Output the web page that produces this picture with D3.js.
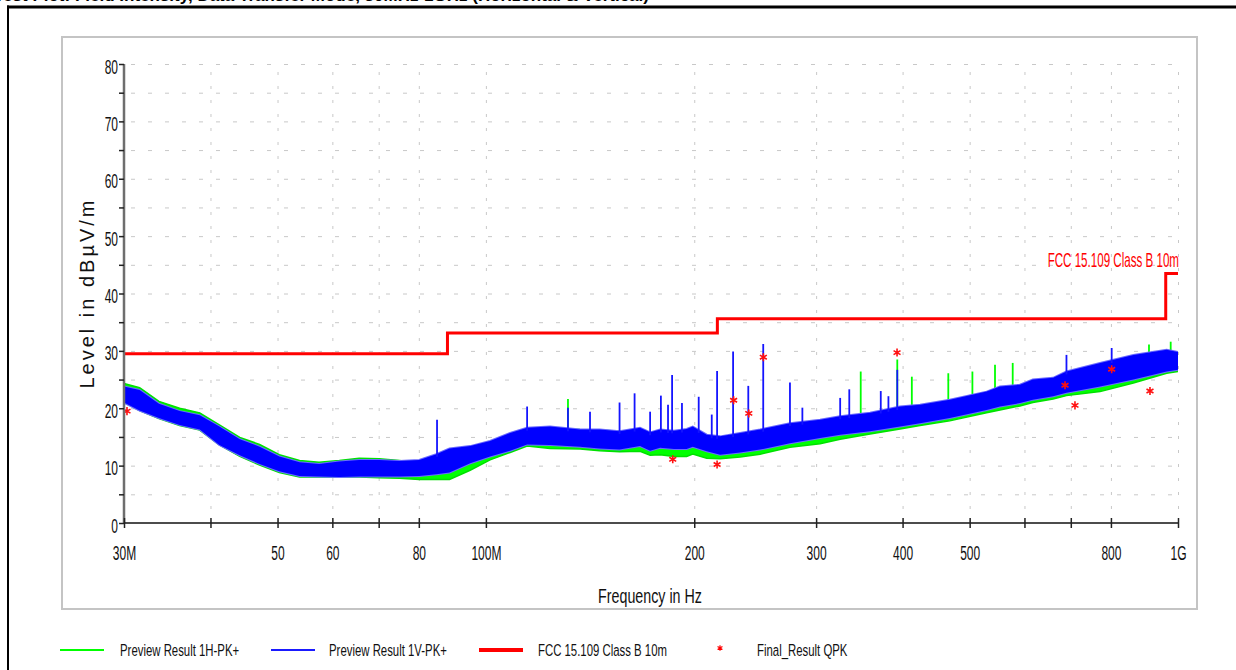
<!DOCTYPE html>
<html>
<head>
<meta charset="utf-8">
<script src="https://cdn.jsdelivr.net/npm/d3@7"></script>
<style>
  body { margin: 0; background: #fff; }
  svg text { font-family: "Liberation Sans", Arial, sans-serif; }
</style>
</head>
<body>
<svg id="chart" width="1236" height="670"></svg>
<script>
// ---- data ----
const freqMHz = [30, 31.6, 33.7, 36.1, 38.6, 41.2, 44.1, 47.1, 50.3, 53.8, 57.4, 61.4, 65.6, 70.1, 75, 80.1,
  84.8, 88.6, 94.9, 101.4, 108.4, 114.7, 123.8, 136.8, 146, 156, 167, 172.7, 178.5, 187, 195, 199, 208.5,
  218, 233, 249, 275, 304, 325, 359, 396.7, 424, 468, 529, 553, 591, 617, 660, 690, 771.7, 862, 963, 1000];
const blueLo = [21.0, 19.6, 18.3, 17.1, 16.3, 13.6, 11.8, 10.3, 9.0, 8.2, 8.1, 8.0, 8.1, 8.1, 8.1, 8.2,
  8.5, 8.8, 10.4, 11.6, 12.6, 13.7, 13.6, 13.3, 13.0, 12.8, 13.4, 12.6, 13.1, 12.9, 12.9, 13.3, 12.5,
  11.9, 12.3, 12.8, 13.9, 14.8, 15.4, 16.0, 16.8, 17.4, 18.3, 19.7, 20.3, 20.9, 21.5, 22.1, 22.7, 23.8, 25.0, 26.4, 26.7];
const blueHi = [23.8, 23.2, 20.8, 19.5, 18.8, 16.8, 14.6, 13.3, 11.6, 10.6, 10.3, 10.7, 11.0, 11.0, 10.8, 11.0,
  12.0, 13.0, 13.4, 14.3, 15.7, 16.6, 16.8, 16.3, 16.3, 16.0, 16.6, 15.8, 16.3, 16.1, 16.4, 16.8, 15.4,
  15.1, 15.7, 16.3, 17.4, 18.0, 18.6, 19.2, 20.3, 20.6, 21.5, 22.9, 23.8, 24.1, 25.0, 25.3, 26.4, 27.9, 29.3, 30.2, 29.8];
const greenLo = [21.0, 19.6, 18.2, 17.0, 16.2, 13.6, 11.6, 10.1, 8.8, 8.0, 8.0, 8.0, 8.0, 7.9, 7.8, 7.6,
  7.6, 7.6, 9.2, 11.0, 12.3, 13.4, 13.0, 12.9, 12.6, 12.4, 12.5, 11.8, 11.9, 11.6, 11.6, 12.0, 11.3,
  11.2, 11.5, 12.0, 13.2, 13.8, 14.6, 15.5, 16.4, 17.0, 17.8, 19.2, 19.7, 20.4, 21.0, 21.6, 22.2, 22.9, 24.4, 26.1, 26.4];
const greenHi = [24.3, 23.6, 21.2, 20.0, 19.2, 17.1, 14.9, 13.7, 11.9, 10.9, 10.6, 10.9, 11.3, 11.2, 10.9, 10.4,
  10.4, 10.7, 11.8, 13.6, 15.5, 16.5, 16.6, 16.3, 16.2, 16.0, 16.0, 15.6, 16.0, 15.8, 16.2, 16.6, 15.0,
  14.8, 15.3, 16.0, 17.0, 17.6, 18.3, 19.0, 20.0, 20.5, 21.3, 22.8, 23.5, 24.0, 24.8, 25.2, 26.2, 27.6, 29.0, 30.0, 29.6];

const blueSpikeFreq = [85, 114.7, 131.4, 141.4, 156, 164, 172.7, 179, 183.3, 185.8, 192, 203, 212, 215.8,
  227.6, 239.4, 251.6, 275, 286.6, 325, 335, 372, 381.6, 393, 690, 802];
const blueSpikePeak = [18.0, 20.3, 20.1, 19.4, 21.0, 22.6, 19.4, 22.2, 20.6, 25.8, 20.9, 22.0, 18.9, 26.5,
  29.9, 23.9, 31.2, 24.5, 20.1, 21.8, 23.3, 23.0, 22.1, 26.7, 29.3, 30.5];
const greenSpikeFreq = [131.4, 348, 393, 412.5, 465.7, 504.6, 544, 577, 908, 976];
const greenSpikePeak = [21.6, 26.4, 28.5, 25.5, 26.1, 26.4, 27.6, 27.9, 31.1, 31.6];

const limitFreq = [30, 88, 88, 216, 216, 960, 960, 1000];
const limitLevel = [29.5, 29.5, 33.1, 33.1, 35.6, 35.6, 43.5, 43.5];

const qpkFreq = [30.3, 186.2, 215.8, 228, 239.8, 251.7, 392.7, 686.7, 709.8, 802, 911];
const qpkLevel = [19.5, 11.1, 10.2, 21.4, 19.1, 28.9, 29.7, 24.0, 20.5, 26.8, 23.0];

const xTicks = [30, 40, 50, 60, 70, 80, 100, 200, 300, 400, 500, 600, 700, 800, 1000];
const xTickLabels = ['30M', '', '50', '60', '', '80', '100M', '200', '300', '400', '500', '', '', '800', '1G'];
const yTicks = d3.range(0, 81, 5);

const legendItems = ['Preview Result 1H-PK+', 'Preview Result 1V-PK+', 'FCC 15.109 Class B 10m', 'Final_Result QPK'];

// ---- layout ----
const svg = d3.select('#chart');
const plotLeft = 124, plotRight = 1178, plotTop = 64, plotBottom = 523;

const x = d3.scaleLog().domain([30, 1000]).range([plotLeft, plotRight]);
const y = d3.scaleLinear().domain([0, 80]).range([plotBottom, plotTop]);

// squeeze text horizontally like the original narrow font
function squeeze(sel, sx) {
  sel.attr('transform', `scale(${sx},1)`);
}

// outer frame and the title line, mostly cut off at the top of the page
svg.append('text')
  .attr('x', -6).attr('y', 1)
  .attr('font-size', 17).attr('font-weight', 'bold')
  .text('Test Plot: Field Intensity, Data Transfer Mode, 30MHz-1GHz (Horizontal & Vertical)');
svg.append('rect').attr('x', 7).attr('y', 5.5).attr('width', 1240).attr('height', 3).attr('fill', '#000');
svg.append('rect').attr('x', 7).attr('y', 5.5).attr('width', 2).attr('height', 700).attr('fill', '#000');

// inner panel
svg.append('rect')
  .attr('x', 62).attr('y', 37).attr('width', 1135).attr('height', 572)
  .attr('fill', '#fff').attr('stroke', '#c4c4c4').attr('stroke-width', 2);

// grid
svg.append('g')
  .attr('transform', `translate(${plotLeft},0)`)
  .call(d3.axisLeft(y).tickValues(yTicks.filter(d => d > 0)).tickSize(-(plotRight - plotLeft)).tickFormat(''))
  .call(g => g.select('.domain').remove())
  .call(g => g.selectAll('line')
    .attr('stroke', '#c8c8c8').attr('stroke-dasharray', '4,13').attr('stroke-dashoffset', -7));

svg.append('g')
  .attr('transform', `translate(0,${plotBottom})`)
  .call(d3.axisBottom(x).tickValues(xTicks.filter(d => d > 30)).tickSize(-(plotBottom - plotTop)).tickFormat(''))
  .call(g => g.select('.domain').remove())
  .call(g => g.selectAll('line')
    .attr('stroke', '#c8c8c8').attr('stroke-dasharray', '3,11'));

// traces
svg.append('clipPath').attr('id', 'clip')
  .append('rect').attr('x', plotLeft).attr('y', plotTop - 10)
  .attr('width', plotRight - plotLeft).attr('height', plotBottom - plotTop + 10);
const plot = svg.append('g').attr('clip-path', 'url(#clip)');

const band = (lo, hi) => d3.area()
  .x((d, i) => x(freqMHz[i]))
  .y0((d, i) => y(lo[i]))
  .y1((d, i) => y(hi[i]));

function drawSpikes(freqs, peaks, hiArr, color, width) {
  const base = d3.scaleLog().domain(freqMHz).range(hiArr);
  plot.append('g').selectAll('line')
    .data(freqs)
    .join('line')
    .attr('x1', d => x(d)).attr('x2', d => x(d))
    .attr('y1', d => y(base(d) - 0.5))
    .attr('y2', (d, i) => y(peaks[i]))
    .attr('stroke', color).attr('stroke-width', width);
}

plot.append('path').datum(freqMHz)
  .attr('d', band(greenLo, greenHi))
  .attr('fill', '#00ff00').attr('stroke', '#00e000').attr('stroke-width', 1.5);
drawSpikes(greenSpikeFreq, greenSpikePeak, greenHi, '#00ff00', 1.8);

plot.append('path').datum(freqMHz)
  .attr('d', band(blueLo, blueHi))
  .attr('fill', '#0000ff').attr('stroke', '#6a6aff').attr('stroke-width', 2);
plot.append('path').datum(freqMHz)
  .attr('d', band(blueLo, blueHi))
  .attr('fill', '#0000ff');
drawSpikes(blueSpikeFreq, blueSpikePeak, blueHi, '#1414ff', 1.8);

// limit line
plot.append('path')
  .datum(limitFreq)
  .attr('d', d3.line().x(d => x(d)).y((d, i) => y(limitLevel[i])))
  .attr('fill', 'none').attr('stroke', '#ff0000').attr('stroke-width', 3);

svg.append('g').attr('transform', `translate(${plotRight + 1},267)`)
  .append('text')
  .attr('text-anchor', 'end').attr('font-size', 20).attr('fill', '#ff0000')
  .text(legendItems[2])
  .call(squeeze, 0.58);

// final QPK markers
svg.append('g').selectAll('path')
  .data(qpkFreq)
  .join('path')
  .attr('transform', (d, i) => `translate(${x(d)},${y(qpkLevel[i])})`)
  .attr('d', d3.symbol(d3.symbolAsterisk, 45))
  .attr('fill', 'none').attr('stroke', '#ff1010').attr('stroke-width', 1.6);

// axes
svg.append('g')
  .attr('transform', `translate(${plotLeft},0)`)
  .call(d3.axisLeft(y).tickValues(yTicks).tickSize(5).tickPadding(4)
    .tickFormat(d => d % 10 === 0 ? d : ''))
  .call(g => g.select('.domain').attr('stroke', '#6e6e6e').attr('stroke-width', 2.5)
    .attr('d', `M0,${plotTop}V${plotBottom}`))
  .call(g => g.selectAll('line').attr('stroke', '#222').attr('stroke-width', 1.5))
  .call(g => g.selectAll('text')
    .attr('font-size', 20).attr('fill', '#111').attr('font-family', null)
    .attr('x', -6 / 0.6).attr('dy', '0.45em')
    .call(squeeze, 0.6));

svg.append('g')
  .attr('transform', `translate(0,${plotBottom})`)
  .call(d3.axisBottom(x).tickValues(xTicks).tickSize(5)
    .tickFormat((d, i) => xTickLabels[i]))
  .call(g => g.select('.domain').attr('stroke', '#111').attr('stroke-width', 1.5)
    .attr('d', `M${plotLeft},0H${plotRight}`))
  .call(g => g.selectAll('.tick line').attr('y1', -5).attr('y2', 5)
    .attr('stroke', '#222').attr('stroke-width', 1.5))
  .call(g => g.selectAll('text')
    .attr('font-size', 20).attr('fill', '#111').attr('font-family', null)
    .attr('y', 23)
    .call(squeeze, 0.6));

// axis titles
svg.append('g').attr('transform', 'translate(650,603)')
  .append('text').attr('text-anchor', 'middle').attr('font-size', 21).attr('fill', '#111')
  .text('Frequency in Hz')
  .call(squeeze, 0.68);

svg.append('g').attr('transform', 'translate(94,293)')
  .append('text').attr('text-anchor', 'middle').attr('font-size', 20).attr('fill', '#111')
  .attr('letter-spacing', 3)
  .attr('transform', 'rotate(-90)')
  .text('Level in dBµV/m');

// legend
const legendX = [60, 271, 479, 720];
const legendText = [120, 329, 538, 757];
const legendColor = ['#00ff00', '#1a1aff', '#ff0000', '#ff0000'];
const legendWidth = [2, 2, 4, 0];
const lg = svg.append('g');
legendItems.forEach((label, i) => {
  if (i < 3) {
    lg.append('line')
      .attr('x1', legendX[i]).attr('x2', legendX[i] + 44)
      .attr('y1', 650).attr('y2', 650)
      .attr('stroke', legendColor[i]).attr('stroke-width', legendWidth[i]);
  } else {
    lg.append('path')
      .attr('transform', `translate(${legendX[i]},648)`)
      .attr('d', d3.symbol(d3.symbolAsterisk, 22))
      .attr('fill', 'none').attr('stroke', '#ff0000').attr('stroke-width', 1.2);
  }
  lg.append('g').attr('transform', `translate(${legendText[i]},656)`)
    .append('text').attr('font-size', 17).attr('fill', '#111')
    .text(label)
    .call(squeeze, 0.67);
});
</script>
</body>
</html>
